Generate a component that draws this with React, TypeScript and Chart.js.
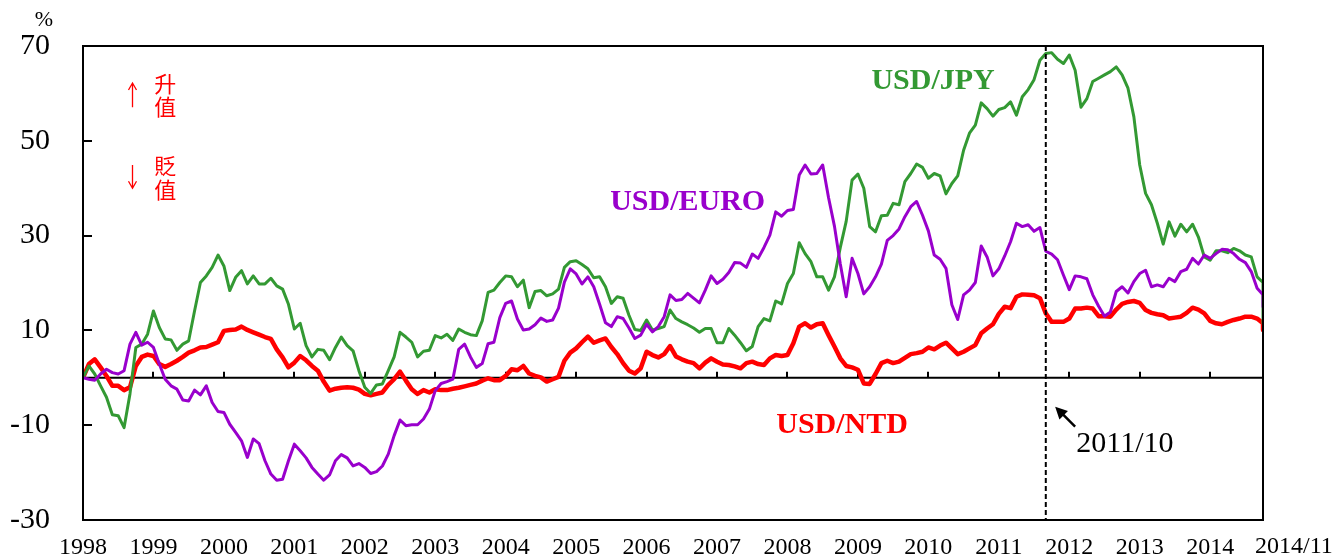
import React, { useEffect, useRef } from 'react';
import { Chart, registerables } from 'chart.js';

Chart.register(...registerables);

// ---- data (monthly % change vs 1998/01, index 0 = 1998/01 ... 202 = 2014/11) ----
const yearLabels = ['1998', '1999', '2000', '2001', '2002', '2003', '2004', '2005', '2006', '2007', '2008', '2009', '2010', '2011', '2012', '2013', '2014'];
const endLabel = '2014/11';
const yTickValues = [-30, -10, 10, 30, 50, 70];

const usdJpy = [
  0, 2.5, 0.8, -1.7, -4.1, -7.8, -8, -10.5, -3.4, 6.4, 7.1, 9.2,
  14.1, 10.6, 8.2, 8, 5.8, 7.1, 7.8, 14.1, 20.1, 21.5, 23.3, 25.9,
  23.6, 18.4, 21.2, 22.6, 19.8, 21.5, 19.8, 19.8, 21, 19.4, 18.7, 15.5,
  10.3, 11.5, 6.8, 4.4, 6, 5.8, 3.8, 6.4, 8.6, 6.8, 5.7, 1.5,
  -2, -3.3, -1.5, -1.3, 1.5, 4.4, 9.6, 8.6, 7.5, 4.4, 5.6, 5.8,
  8.9, 8.4, 9.2, 7.9, 10.3, 9.6, 9.1, 8.9, 12, 18, 18.5, 20.1,
  21.5, 21.3, 19.2, 20.6, 14.8, 18.2, 18.4, 17.3, 17.7, 18.7, 23.3, 24.5,
  24.7, 23.9, 23, 21.1, 21.3, 19.2, 15.7, 17.1, 16.8, 13.2, 10.2, 10,
  12.2, 10.1, 10.4, 10.8, 14.3, 12.5, 11.8, 11.2, 10.5, 9.6, 10.4, 10.4,
  7.4, 7.4, 10.4, 9, 7.4, 5.7, 6.6, 10.8, 12.5, 12, 16.2, 15.6,
  19.9, 22, 28.5, 26.2, 24.5, 21.3, 21.3, 18.5, 21.3, 27.5, 33, 41.7,
  43, 40, 31.9, 30.8, 34.2, 34.3, 36.8, 36.5, 41.4, 43.1, 45.1, 44.4,
  42.1, 43.1, 42.6, 38.8, 41, 42.6, 48, 51.6, 53.3, 58, 56.8, 55.2,
  56.6, 57, 58.2, 55.4, 59.3, 60.8, 62.9, 67, 68.4, 68.6, 67.2, 66.3,
  68.1, 64.9, 57.1, 58.9, 62.5, 63.2, 63.9, 64.6, 65.6, 63.9, 61.1, 55.1,
  44.9, 38.9, 36.5, 32.6, 28.2, 32.9, 29.9, 32.4, 30.8, 32.4, 29.7, 25.5,
  24.8, 26.8, 26.8, 26.4, 27.3, 26.8, 25.9, 25.5, 21.3, 20.1, 11.5,
];

const usdEuro = [
  0, -0.3, -0.5, 0.8, 1.8, 1.1, 0.8, 1.5, 7.1, 9.6, 6.9, 7.5,
  6.4, 2.9, -0.3, -1.7, -2.4, -4.7, -4.9, -2.6, -3.6, -1.7, -5.2, -7.1,
  -7.3, -9.8, -11.5, -13.3, -16.8, -12.9, -13.9, -17.5, -20.3, -21.6, -21.4, -17.5,
  -14, -15.4, -16.9, -18.9, -20.3, -21.6, -20.5, -17.5, -16.2, -16.9, -18.6, -18.1,
  -18.9, -20.2, -19.8, -18.6, -16.1, -12.2, -8.9, -10.1, -9.9, -9.9, -8.7, -6.6,
  -2.7, -1.2, -0.8, -0.3, 6, 7.1, 4.4, 2.2, 3, 7.2, 7.5, 12.7,
  15.7, 16.2, 12.4, 10.1, 10.3, 11.2, 12.6, 11.9, 12.2, 14.7, 20.2, 23,
  21.9, 19.8, 21.3, 19.2, 15.5, 11.6, 10.8, 12.9, 12.5, 10.5, 8.3, 9,
  11.3, 9.7, 10.8, 12.9, 17.5, 16.3, 16.5, 17.8, 16.8, 15.8, 18.5, 21.5,
  19.9, 20.8, 22.2, 24.3, 24.2, 23.3, 26.1, 25.2, 27.5, 30.1, 35, 34.1,
  35.3, 35.5, 42.8, 44.9, 43, 43.1, 44.9, 38, 32, 24, 17.1, 25.2,
  22, 17.7, 19.2, 21.3, 24, 29, 30, 31.4, 34, 36.1, 37.2, 34.3,
  31, 25.9, 25, 23.1, 15.4, 12.3, 17.5, 18.5, 20.1, 27.8, 25.5, 21.5,
  23, 25.7, 28.7, 32.6, 31.9, 32.3, 30.9, 31.7, 26.7, 26.1, 24.9, 21.7,
  18.6, 21.5, 21.3, 20.9, 17.5, 15.1, 13, 13.9, 18.2, 19.2, 17.9, 20.3,
  22, 22.7, 19.2, 19.6, 19.2, 21, 20.3, 22.4, 22.9, 25.2, 24, 25.9,
  25.2, 26.2, 27.1, 27, 26.2, 25, 24.3, 22.4, 18.9, 17.5, 15,
];

const usdNtd = [
  0, 2.9, 3.9, 2.2, 0.4, -1.7, -1.7, -2.6, -2, 2.5, 4.4, 4.9,
  4.6, 2.9, 2.3, 2.9, 3.6, 4.4, 5.3, 5.8, 6.4, 6.5, 7, 7.5,
  9.9, 10.1, 10.2, 10.8, 10.1, 9.6, 9.1, 8.6, 8.2, 6, 4.3, 2.2,
  3.2, 4.6, 3.7, 2.5, 1.5, -0.8, -2.7, -2.3, -2.1, -2, -2.1, -2.5,
  -3.4, -3.7, -3.4, -3.1, -1.5, -0.3, 1.3, -0.6, -2.4, -3.4, -2.6, -3.1,
  -2.4, -2.6, -2.6, -2.3, -2.1, -1.8, -1.5, -1.2, -0.6, -0.1, -0.5, -0.5,
  0.4, 1.8, 1.6, 2.5, 0.9, 0.4, 0.1, -0.8, -0.3, 0.2, 3.6, 5.3,
  6.2, 7.5, 8.7, 7.4, 7.9, 8.3, 6.5, 5, 3.1, 1.5, 0.9, 2,
  5.5, 4.8, 4.3, 5, 6.7, 4.5, 3.9, 3.4, 3.1, 2, 3.2, 4.1,
  3.4, 2.8, 2.7, 2.4, 2, 3.1, 3.4, 2.9, 2.7, 4.1, 4.8, 4.6,
  4.8, 7.3, 10.8, 11.5, 10.6, 11.3, 11.5, 9, 6.6, 4.1, 2.5, 2.2,
  1.7, -1.2, -1.3, 0.8, 3.1, 3.6, 3.1, 3.4, 4.2, 5, 5.2, 5.5,
  6.4, 6, 6.8, 7.4, 6.2, 5, 5.5, 6.2, 6.9, 9.4, 10.4, 11.3,
  13.5, 15, 14.7, 17.1, 17.6, 17.5, 17.4, 16.8, 13.6, 11.8, 11.8, 11.8,
  12.5, 14.6, 14.6, 14.8, 14.6, 13, 13, 12.9, 14.4, 15.6, 16, 16.2,
  15.8, 14.3, 13.7, 13.4, 13.2, 12.5, 12.7, 12.9, 13.7, 14.8, 14.4, 13.6,
  12, 11.5, 11.3, 11.8, 12.2, 12.5, 12.9, 12.9, 12.5, 11.5, 10.1,
];

// The axis ends at this month index; the 2014/11 reading is drawn on the axis end.
const axisEndIndex = 201;
const markerIndex = 164;
const markerLabel = '2011/10';

const GREEN = '#339933';
const PURPLE = '#9900CC';
const RED = '#FF0000';
const SERIF = "'Liberation Serif', 'Times New Roman', serif";
const CJK = "'Noto Sans CJK TC', 'Noto Sans CJK SC', sans-serif";

const seriesNotes = [
  { text: 'USD/JPY', color: GREEN, x: 144.8, y: 60.9 },
  { text: 'USD/EURO', color: PURPLE, x: 103.0, y: 35.3 },
  { text: 'USD/NTD', color: RED, x: 129.3, y: -11.6 },
];

const toPoints = (arr: number[]) => arr.map((v, i) => ({ x: Math.min(i, axisEndIndex), y: v }));

export default function App() {
  const ref = useRef<HTMLCanvasElement | null>(null);

  useEffect(() => {
    if (!ref.current) return;

    const overlay = {
      id: 'overlay',
      beforeDatasetsDraw(chart: any) {
        const { ctx, chartArea: a, scales } = chart;
        const x = scales.x;
        const y = scales.y;
        const y0 = y.getPixelForValue(0);
        ctx.save();
        ctx.strokeStyle = '#000';
        ctx.lineWidth = 2;
        ctx.beginPath();
        ctx.moveTo(a.left, y0);
        ctx.lineTo(a.right, y0);
        yearLabels.forEach((_, k) => {
          if (k === 0) return;
          const px = Math.round(x.getPixelForValue(k * 12));
          ctx.moveTo(px, y0);
          ctx.lineTo(px, y0 - 6);
        });
        ctx.stroke();
        ctx.restore();
      },
      afterDatasetsDraw(chart: any) {
        const { ctx, chartArea: a, scales } = chart;
        const x = scales.x;
        const y = scales.y;
        ctx.save();
        // marker dashed line
        const mx = x.getPixelForValue(markerIndex);
        ctx.strokeStyle = '#000';
        ctx.lineWidth = 2;
        ctx.setLineDash([5, 3]);
        ctx.beginPath();
        ctx.moveTo(mx, a.top);
        ctx.lineTo(mx, a.bottom);
        ctx.stroke();
        ctx.setLineDash([]);
        // frame
        ctx.lineWidth = 2;
        ctx.strokeRect(a.left, a.top, a.right - a.left, a.bottom - a.top);
        // y ticks pointing inward
        ctx.beginPath();
        yTickValues.forEach((v) => {
          const py = Math.round(y.getPixelForValue(v));
          ctx.moveTo(a.left, py);
          ctx.lineTo(a.left + 9, py);
        });
        ctx.stroke();

        // series notes
        ctx.textAlign = 'center';
        ctx.textBaseline = 'alphabetic';
        ctx.font = `bold 30px ${SERIF}`;
        seriesNotes.forEach((n) => {
          ctx.fillStyle = n.color;
          ctx.fillText(n.text, x.getPixelForValue(n.x), y.getPixelForValue(n.y));
        });

        // marker annotation
        ctx.fillStyle = '#000';
        ctx.textAlign = 'left';
        ctx.font = `30px ${SERIF}`;
        ctx.fillText(markerLabel, x.getPixelForValue(169.2), y.getPixelForValue(-15.6));
        const tx = x.getPixelForValue(169.0);
        const ty = y.getPixelForValue(-10.3);
        const hx = x.getPixelForValue(165.6);
        const hy = y.getPixelForValue(-6.1);
        const ang = Math.atan2(hy - ty, hx - tx);
        ctx.lineWidth = 2.5;
        ctx.beginPath();
        ctx.moveTo(tx, ty);
        ctx.lineTo(hx - 6 * Math.cos(ang), hy - 6 * Math.sin(ang));
        ctx.stroke();
        ctx.beginPath();
        ctx.moveTo(hx, hy);
        ctx.lineTo(hx - 12 * Math.cos(ang) + 6 * Math.sin(ang), hy - 12 * Math.sin(ang) - 6 * Math.cos(ang));
        ctx.lineTo(hx - 12 * Math.cos(ang) - 6 * Math.sin(ang), hy - 12 * Math.sin(ang) + 6 * Math.cos(ang));
        ctx.closePath();
        ctx.fill();

        // appreciation / depreciation notes
        ctx.fillStyle = RED;
        ctx.strokeStyle = RED;
        ctx.textAlign = 'center';
        ctx.textBaseline = 'middle';
        ctx.font = `22px ${CJK}`;
        const cx = x.getPixelForValue(14.0);
        ctx.fillText('升', cx, y.getPixelForValue(62.0));
        ctx.fillText('值', cx, y.getPixelForValue(57.2));
        ctx.fillText('貶', cx, y.getPixelForValue(44.8));
        ctx.fillText('值', cx, y.getPixelForValue(39.8));
        const ax = Math.round(x.getPixelForValue(8.35)) + 0.5;
        ctx.lineWidth = 1.3;
        const upTop = y.getPixelForValue(62.2);
        const upBot = y.getPixelForValue(57.1);
        const dnTop = y.getPixelForValue(44.9);
        const dnBot = y.getPixelForValue(40.0);
        ctx.beginPath();
        ctx.moveTo(ax, upBot);
        ctx.lineTo(ax, upTop);
        ctx.moveTo(ax - 4, upTop + 7);
        ctx.lineTo(ax, upTop);
        ctx.lineTo(ax + 4, upTop + 7);
        ctx.moveTo(ax, dnTop);
        ctx.lineTo(ax, dnBot);
        ctx.moveTo(ax - 4, dnBot - 7);
        ctx.lineTo(ax, dnBot);
        ctx.lineTo(ax + 4, dnBot - 7);
        ctx.stroke();

        // unit and end label
        ctx.fillStyle = '#000';
        ctx.textAlign = 'center';
        ctx.textBaseline = 'middle';
        ctx.font = `22px ${SERIF}`;
        ctx.fillText('%', a.left - 39, a.top - 26);
        ctx.font = `24px ${SERIF}`;
        ctx.textAlign = 'left';
        ctx.fillText(endLabel, a.right - 8, a.bottom + 27);
        ctx.restore();
      },
    };

    const chart = new Chart(ref.current, {
      type: 'line',
      data: {
        datasets: [
          { label: 'USD/EURO', data: toPoints(usdEuro), borderColor: PURPLE, borderWidth: 3, pointRadius: 0, tension: 0, borderJoinStyle: 'round', fill: false },
          { label: 'USD/JPY', data: toPoints(usdJpy), borderColor: GREEN, borderWidth: 3, pointRadius: 0, tension: 0, borderJoinStyle: 'round', fill: false },
          { label: 'USD/NTD', data: toPoints(usdNtd), borderColor: RED, borderWidth: 4.5, pointRadius: 0, tension: 0, borderJoinStyle: 'round', fill: false },
        ],
      },
      options: {
        responsive: true,
        maintainAspectRatio: false,
        animation: false,
        devicePixelRatio: 1,
        layout: { padding: { top: 46, right: 72, left: 0, bottom: 0 } },
        plugins: { legend: { display: false }, tooltip: { enabled: false }, title: { display: false } },
        events: [],
        scales: {
          x: {
            type: 'linear',
            min: 0,
            max: axisEndIndex,
            afterBuildTicks: (s: any) => {
              s.ticks = yearLabels.map((_, k) => ({ value: k * 12 }));
            },
            afterFit: (s: any) => {
              s.height = 38;
              s.paddingLeft = 0;
              s.paddingRight = 0;
            },
            grid: { display: false, drawTicks: false },
            border: { display: false },
            ticks: {
              autoSkip: false,
              maxRotation: 0,
              padding: 13,
              color: '#000',
              font: { family: SERIF, size: 24 },
              callback: (v: any) => yearLabels[Math.round(Number(v) / 12)] ?? '',
            },
          },
          y: {
            type: 'linear',
            min: -30,
            max: 70,
            afterBuildTicks: (s: any) => {
              s.ticks = yTickValues.map((v) => ({ value: v }));
            },
            afterFit: (s: any) => {
              s.width = 83;
              s.paddingTop = 0;
              s.paddingBottom = 0;
            },
            grid: { display: false, drawTicks: false },
            border: { display: false },
            ticks: {
              padding: 33,
              color: '#000',
              font: { family: SERIF, size: 30 },
            },
          },
        },
      },
      plugins: [overlay],
    } as any);

    return () => chart.destroy();
  }, []);

  return (
    <div style={{ position: 'absolute', left: 0, top: 0, width: 1335, height: 558, background: '#fff' }}>
      <canvas ref={ref} style={{ display: 'block' }} />
    </div>
  );
}
